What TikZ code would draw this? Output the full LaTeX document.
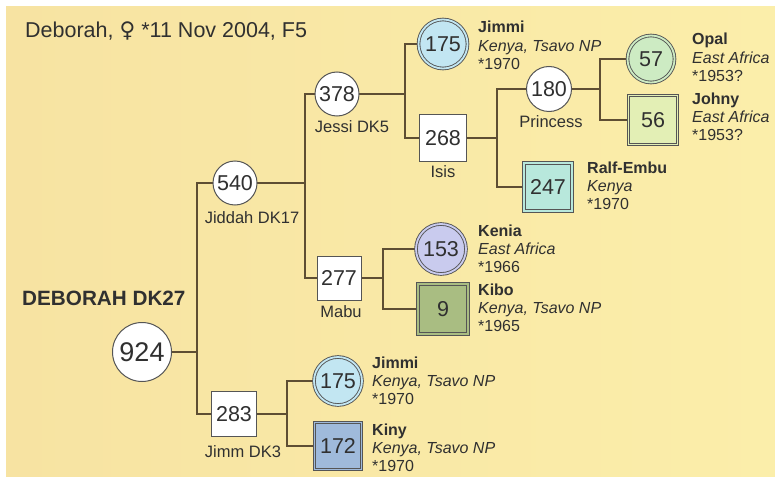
\documentclass[tikz,border=0pt]{standalone}
\usepackage{fontspec}
\setmainfont{Liberation Sans}
\newfontfamily\symfam{DejaVu Sans}
\definecolor{bgA}{HTML}{F7E3A2}
\definecolor{bgB}{HTML}{FBEEAA}
\definecolor{lineC}{HTML}{5E4E33}
\definecolor{edgeC}{HTML}{555555}
\definecolor{txtC}{HTML}{303030}
\definecolor{cBlue}{HTML}{C2E6F2}
\definecolor{cGreen}{HTML}{CDEBC3}
\definecolor{cLime}{HTML}{E3EFB5}
\definecolor{cTeal}{HTML}{B8E8DC}
\definecolor{cLav}{HTML}{C9CBEE}
\definecolor{cOlive}{HTML}{A9BD82}
\definecolor{cSteel}{HTML}{9FBADB}
\newcommand\infotext[6]{%
  \node[nm] (#1-n) at (#2,#3) {#4};
  \node[pl] (#1-p) at (#2,#3+18.3) {#5};
  \node[yr] (#1-y) at (#2,#3+36.6) {#6};}
\begin{document}
\begin{tikzpicture}[x=1pt,y=-1pt,
  every node/.style={text=txtC},
  numf/.style={font=\fontsize{21.5}{23}\selectfont},
  wcirc/.style={circle,draw=edgeC,line width=1pt,fill=white,inner sep=0pt,numf},
  wsq/.style={rectangle,draw=edgeC,line width=1pt,fill=white,inner sep=0pt,numf},
  dcirc/.style={circle,draw=edgeC,line width=0.9pt,double=#1,double distance=1.8pt,fill=#1,inner sep=0pt,numf},
  dsq/.style={rectangle,draw=edgeC,line width=0.9pt,double=#1,double distance=1.8pt,fill=#1,inner sep=0pt,numf},
  under/.style={anchor=base,inner sep=0pt,font=\fontsize{16.5}{18}\selectfont},
  nm/.style={anchor=base west,inner sep=0pt,font=\fontsize{16}{18}\selectfont\bfseries},
  pl/.style={anchor=base west,inner sep=0pt,font=\fontsize{16}{18}\selectfont\itshape},
  yr/.style={anchor=base west,inner sep=0pt,font=\fontsize{16}{18}\selectfont},
  conn/.style={draw=lineC,line width=1.1pt}]
\useasboundingbox (0,0) rectangle (775,476);
\fill[white] (0,0) rectangle (775,476);
\shade[left color=bgA,right color=bgB] (6,7) rectangle (775,476);

% titles
\node[anchor=base west,inner sep=0pt,font=\fontsize{21.5}{23}\selectfont] (title) at (25,38) {Deborah, {\symfam ♀} *11 Nov 2004, F5};
\node[anchor=base west,inner sep=0pt,font=\fontsize{20.7}{22}\selectfont\bfseries] (main) at (22,305) {DEBORAH DK27};

% junction columns
\coordinate (j1) at (197,0);
\coordinate (j2) at (305,0);
\coordinate (j3) at (405,0);
\coordinate (j4) at (497,0);
\coordinate (j5) at (600,0);
\coordinate (j6) at (383,0);
\coordinate (j7) at (287,0);

% node centres
\path (142,352) coordinate (p924) (235,183) coordinate (p540) (337,94) coordinate (p378)
      (443,44) coordinate (p175a) (443,138) coordinate (p268) (549,89) coordinate (p180)
      (651,59) coordinate (p57) (653,120) coordinate (p56) (548,187) coordinate (p247)
      (339,278) coordinate (p277) (441,249) coordinate (p153) (443,309) coordinate (p9)
      (234,414) coordinate (p283) (338,381) coordinate (p175b) (338,446) coordinate (p172);

% connectors (drawn first)
\draw[conn] (p924) -- (p924 -| j1);
\draw[conn] (p540) -- (p540 -| j1) -- (p283 -| j1) -- (p283);
\draw[conn] (p540) -- (p540 -| j2);
\draw[conn] (p378) -- (p378 -| j2) -- (p277 -| j2) -- (p277);
\draw[conn] (p378) -- (p378 -| j3);
\draw[conn] (p175a) -- (p175a -| j3) -- (p268 -| j3) -- (p268);
\draw[conn] (p268) -- (p268 -| j4);
\draw[conn] (p180) -- (p180 -| j4) -- (p247 -| j4) -- (p247);
\draw[conn] (p180) -- (p180 -| j5);
\draw[conn] (p57) -- (p57 -| j5) -- (p56 -| j5) -- (p56);
\draw[conn] (p277) -- (p277 -| j6);
\draw[conn] (p153) -- (p153 -| j6) -- (p9 -| j6) -- (p9);
\draw[conn] (p283) -- (p283 -| j7);
\draw[conn] (p175b) -- (p175b -| j7) -- (p172 -| j7) -- (p172);

% nodes
\node[wcirc,minimum size=59pt,font=\fontsize{27}{29}\selectfont] (n924) at (p924) {924};
\node[wcirc,minimum size=44pt] (n540) at (p540) {540};
\node[wcirc,minimum size=44pt] (n378) at (p378) {378};
\node[wcirc,minimum size=45pt] (n180) at (p180) {180};
\node[wsq,minimum size=47pt] (n268) at (p268) {268};
\node[wsq,minimum size=44pt] (n277) at (p277) {277};
\node[wsq,minimum size=45pt] (n283) at (p283) {283};
\node[dcirc=cBlue,minimum size=49pt] (n175a) at (p175a) {175};
\node[dcirc=cGreen,minimum size=47pt] (n57) at (p57) {57};
\node[dsq=cLime,minimum size=49pt] (n56) at (p56) {56};
\node[dsq=cTeal,minimum size=48pt] (n247) at (p247) {247};
\node[dcirc=cLav,minimum size=50pt] (n153) at (p153) {153};
\node[dsq=cOlive,minimum size=50pt] (n9) at (p9) {9};
\node[dcirc=cBlue,minimum size=48pt] (n175b) at (p175b) {175};
\node[dsq=cSteel,minimum size=47pt] (n172) at (p172) {172};

% labels under nodes
\node[under] (l540) at (252,223) {Jiddah DK17};
\node[under] (l378) at (352,132) {Jessi DK5};
\node[under] (l268) at (443,177) {Isis};
\node[under] (l180) at (551,128) {Princess};
\node[under] (l277) at (341,317) {Mabu};
\node[under] (l283) at (243,457) {Jimm DK3};

% side texts
\infotext{i175a}{478}{33}{Jimmi}{Kenya, Tsavo NP}{*1970}
\infotext{i57}{692}{45}{Opal}{East Africa}{*1953?}
\infotext{i56}{692}{104}{Johny}{East Africa}{*1953?}
\infotext{i247}{587}{173}{Ralf-Embu}{Kenya}{*1970}
\infotext{i153}{478}{236}{Kenia}{East Africa}{*1966}
\infotext{i9}{478}{295}{Kibo}{Kenya, Tsavo NP}{*1965}
\infotext{i175b}{372}{368}{Jimmi}{Kenya, Tsavo NP}{*1970}
\infotext{i172}{372}{435}{Kiny}{Kenya, Tsavo NP}{*1970}
\end{tikzpicture}
\end{document}
